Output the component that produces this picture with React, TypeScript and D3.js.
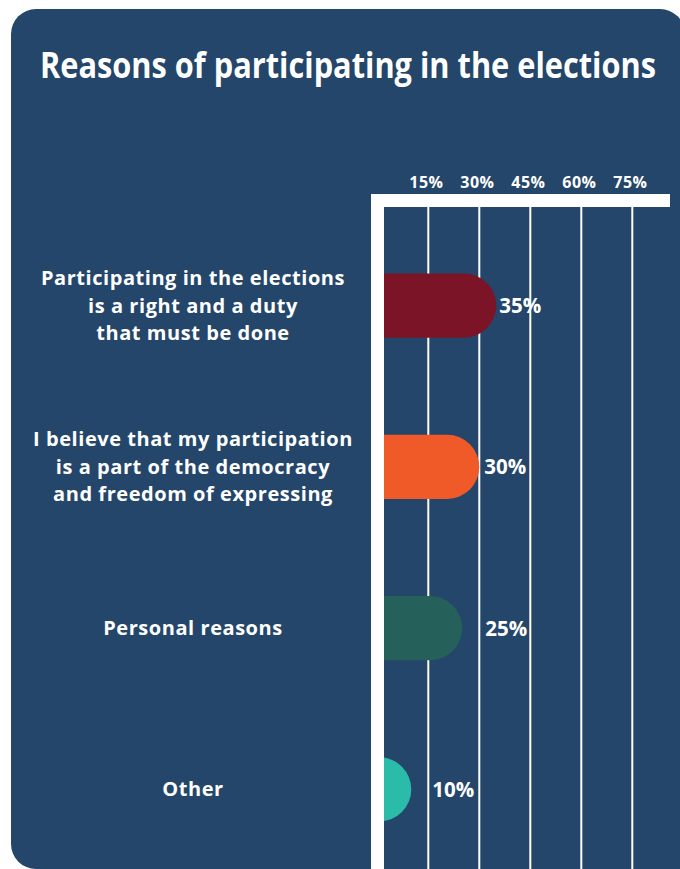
import React, { useLayoutEffect, useRef, useState } from 'react';
import * as d3 from 'd3';

const title = "Reasons of participating in the elections";
const categories: string[][] = [
  ["Participating in the elections", "is a right and a duty", "that must be done"],
  ["I believe that my participation", "is a part of the democracy", "and freedom of expressing"],
  ["Personal reasons"],
  ["Other"],
];
const values = [35, 30, 25, 10];
const tickValues = [15, 30, 45, 60, 75];
const barColors = ["#7C1427", "#F05A28", "#25605A", "#2BBBA9"];

const W = 680;
const H = 869;
const BG = "#24466A";
const FONT = "'Open Sans', 'Noto Sans', sans-serif";

export default function App() {
  const titleRef = useRef<SVGTextElement>(null);
  const [titleScale, setTitleScale] = useState(0.72);
  const titleWidth = 616;
  const titleCx = 348;

  useLayoutEffect(() => {
    const el = titleRef.current;
    if (el) {
      const w = el.getComputedTextLength();
      if (w > 0) setTitleScale(titleWidth / w);
    }
  }, []);

  const x = d3.scaleLinear().domain([0, 75]).range([377.3, 632.3]);
  const y = d3
    .scaleBand<number>()
    .domain(d3.range(values.length))
    .range([225, 870])
    .paddingInner(0.603)
    .paddingOuter(0.3015);
  const bw = y.bandwidth();
  const r = bw / 2;
  const labelNudge = [3, 5, 23, 21];
  const lineH = 27.5;

  const rc = 25;
  const cardPath = `M11,${9 + rc} A${rc},${rc} 0 0 1 ${11 + rc},9 H${685 - rc} A${rc},${rc} 0 0 1 685,${9 + rc} V${H} H${11 + rc} A${rc},${rc} 0 0 1 11,${H - rc} Z`;

  return (
    <svg width={W} height={H} style={{ position: 'absolute', left: 0, top: 0 }} fontFamily={FONT}>
      <rect x={0} y={0} width={W} height={H} fill="#ffffff" />
      <path d={cardPath} fill={BG} />
      <g transform={`translate(${titleCx},78) scale(${titleScale},1)`}>
        <text ref={titleRef} x={0} y={0} textAnchor="middle" fill="#fff" fontWeight={700} fontSize={35}>
          {title}
        </text>
      </g>
      {tickValues.map((t) => (
        <line key={'g' + t} x1={x(t)} x2={x(t)} y1={200} y2={H} stroke="#fff" strokeWidth={2} />
      ))}
      {values.map((v, i) => {
        const y0 = y(i)!;
        const x0 = x(0);
        const xe = x(v);
        const d = `M${x0},${y0} H${xe - r} A${r},${r} 0 0 1 ${xe - r},${y0 + bw} H${x0} Z`;
        return <path key={'b' + i} d={d} fill={barColors[i]} />;
      })}
      <rect x={371} y={194} width={13} height={H - 194} fill="#fff" />
      <rect x={371} y={194} width={299} height={13} fill="#fff" />
      {tickValues.map((t) => (
        <text key={'t' + t} x={x(t) - 2} y={188} textAnchor="middle" fill="#fff" fontWeight={700} fontSize={16} letterSpacing={0.4}>
          {t}%
        </text>
      ))}
      {values.map((v, i) => {
        const cy = y(i)! + bw / 2;
        return (
          <text key={'v' + i} x={x(v) + labelNudge[i]} y={cy + 7.5} fill="#fff" fontWeight={700} fontSize={20.5}>
            {v}%
          </text>
        );
      })}
      {categories.map((lines, i) => {
        const cy = y(i)! + bw / 2;
        const n = lines.length;
        return (
          <text key={'c' + i} textAnchor="middle" fill="#fff" fontWeight={700} fontSize={20} letterSpacing={0.55}>
            {lines.map((ln, j) => (
              <tspan key={j} x={193} y={cy + 7 + (j - (n - 1) / 2) * lineH}>
                {ln}
              </tspan>
            ))}
          </text>
        );
      })}
    </svg>
  );
}
